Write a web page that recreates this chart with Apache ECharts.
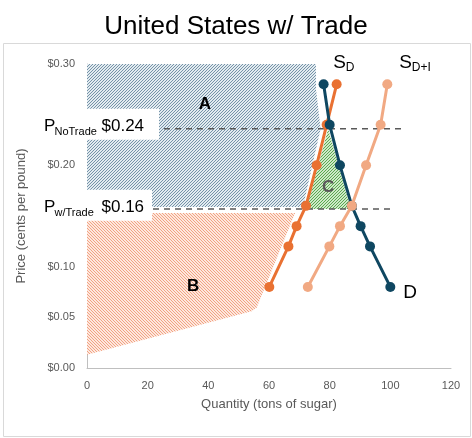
<!DOCTYPE html>
<html><head><meta charset="utf-8">
<script src="https://cdn.jsdelivr.net/npm/echarts@6/dist/echarts.min.js"></script>
<style>html,body{margin:0;padding:0;background:#fff}#c{width:472px;height:438px}</style>
</head><body><div id="c"></div>
<script>
// ---- data (quantity in tons, price in $/lb) ----
const demandD   = [[78,0.28],[80,0.24],[83.4,0.20],[87.3,0.16],[90.2,0.14],[93.3,0.12],[100,0.08]];
const supplyD   = [[82.3,0.28],[79,0.24],[75.7,0.20],[72.2,0.16],[69.1,0.14],[66.4,0.12],[60.1,0.08]];
const supplyDI  = [[99,0.28],[96.8,0.24],[92,0.20],[87.3,0.16],[83.4,0.14],[79.9,0.12],[72.8,0.08]];
const areaA = [[0,0.30],[75.5,0.30],[75.5,0.275],[77,0.236],[71.5,0.163],[70.8,0.159],[0,0.159]];
const areaB = [[0,0.153],[68.6,0.153],[56,0.06],[54.3,0.056],[0,0.013]];
const areaC = [[79.5,0.236],[72.3,0.157],[87,0.157]];
const lineNoTrade   = [[0,0.236],[104.8,0.236]];
const lineWithTrade = [[0,0.157],[101.5,0.157]];
const xTicks = [0,20,40,60,80,100,120];
const yTicks = [0,0.05,0.10,0.15,0.20,0.25,0.30];
const priceNoTradeText = '$0.24';
const priceWithTradeText = '$0.16';
const areaLabels = [['A',38.9,0.26],['B',35,0.081],['C',79.5,0.178]];

const FONT = '"Liberation Sans", Arial, sans-serif';
function hatch(bg, fg, dir){
  const s=3, c=document.createElement('canvas'); c.width=s; c.height=s;
  const g=c.getContext('2d'); g.fillStyle=bg; g.fillRect(0,0,s,s); g.fillStyle=fg;
  for(let x=0;x<s;x++) for(let y=0;y<s;y++){
    if(dir>0 ? (x+y)%s===0 : ((x-y)%s+s)%s===0) g.fillRect(x,y,1,1);
  }
  return {image:c, repeat:'repeat'};
}
function polySeries(poly, fill, z){
  return {type:'custom', z:z, silent:true, data:[0],
    renderItem:(params, api)=>({type:'polygon', shape:{points:poly.map(p=>api.coord(p))}, style:{fill:fill}})};
}
function curve(name, data, color, z){
  return {type:'line', name:name, data:data, z:z, symbol:'circle', symbolSize:10,
    lineStyle:{color:color, width:3}, itemStyle:{color:color}};
}
function dashed(data){
  return {type:'line', data:data, z:2, symbol:'none', lineStyle:{color:'#595959', width:1.5, type:[6,5]}};
}
const chart = echarts.init(document.getElementById('c'), null, {renderer:'canvas'});
const option = {
  animation:false,
  title:{text:'United States w/ Trade', left:'center', top:9, textStyle:{fontSize:26, fontWeight:'normal', color:'#000', fontFamily:FONT}},
  grid:{left:87, right:21, top:64, bottom:70},
  xAxis:{type:'value', min:xTicks[0], max:xTicks[xTicks.length-1], interval:20,
    axisLine:{show:true, lineStyle:{color:'#bfbfbf', width:1}}, axisTick:{show:false}, splitLine:{show:false},
    axisLabel:{color:'#595959', fontSize:11, fontFamily:FONT, margin:12},
    name:'Quantity (tons of sugar)', nameLocation:'middle', nameGap:30,
    nameTextStyle:{color:'#595959', fontSize:13, fontFamily:FONT}},
  yAxis:{type:'value', min:yTicks[0], max:yTicks[yTicks.length-1], interval:0.05,
    axisLine:{show:true, lineStyle:{color:'#bfbfbf', width:1}}, axisTick:{show:false}, splitLine:{show:false},
    axisLabel:{color:'#595959', fontSize:11, fontFamily:FONT, margin:12, formatter:v=>'$'+v.toFixed(2)},
    name:'Price (cents per pound)', nameLocation:'middle', nameGap:59,
    nameTextStyle:{color:'#595959', fontSize:13, fontFamily:FONT}},
  series:[
    polySeries(areaA, hatch('#e3ebf0','#7593a8',1), 1),
    polySeries(areaB, hatch('#fde8de','#f2a283',-1), 1),
    polySeries(areaC, hatch('#cfe9c8','#5aa850',1), 1),
    dashed(lineNoTrade), dashed(lineWithTrade),
    curve('S_D', supplyD, '#e97132', 3),
    curve('D', demandD, '#0f4761', 4),
    curve('S_D+I', supplyDI, '#f1a983', 5)
  ]
};
chart.setOption(option);

const px = (q,p)=>chart.convertToPixel({gridIndex:0}, [q,p]);
function txt(x,y,s,size,extra){
  return {type:'text', z:100, style:Object.assign({x:x, y:y, text:s, fontSize:size, fontFamily:FONT, fill:'#000', align:'left', verticalAlign:'middle'}, extra||{})};
}
const g = [];
g.push({type:'rect', z:0, silent:true, shape:{x:3.5, y:43.5, width:467, height:393}, style:{fill:'none', stroke:'#d9d9d9', lineWidth:1}});
// price label boxes
function priceBox(price, sub, valText, boxW){
  const y = px(0, price)[1];
  g.push({type:'rect', z:99, shape:{x:42, y:y-16, width:boxW, height:31}, style:{fill:'#fff'}});
  g.push(txt(44, y+1.5, 'P', 17));
  g.push(txt(54.5, y+7, sub, 11));
  g.push(txt(101.5, y+1.5, valText, 17));
}
priceBox(0.24, 'NoTrade', priceNoTradeText, 117);
priceBox(0.16, 'w/Trade', priceWithTradeText, 110);
// area letters
areaLabels.forEach(([t,q,p])=>{
  const [x,y] = px(q,p);
  g.push(txt(x,y,t,17,{align:'center', fontWeight:'bold', fill: t==='C' ? '#595959' : '#000'}));
});
// curve labels
const sd = px(supplyD[0][0], supplyD[0][1]);
g.push(txt(sd[0]-3.5, sd[1]-22, 'S', 19));
g.push(txt(sd[0]+9, sd[1]-16.5, 'D', 12));
const sdi = px(supplyDI[0][0], supplyDI[0][1]);
g.push(txt(sdi[0]+12, sdi[1]-22, 'S', 19));
g.push(txt(sdi[0]+24.5, sdi[1]-16.5, 'D+I', 12));
const dd = px(demandD[demandD.length-1][0], demandD[demandD.length-1][1]);
g.push(txt(dd[0]+13, dd[1]+6, 'D', 19));
chart.setOption({graphic:g});
</script></body></html>
